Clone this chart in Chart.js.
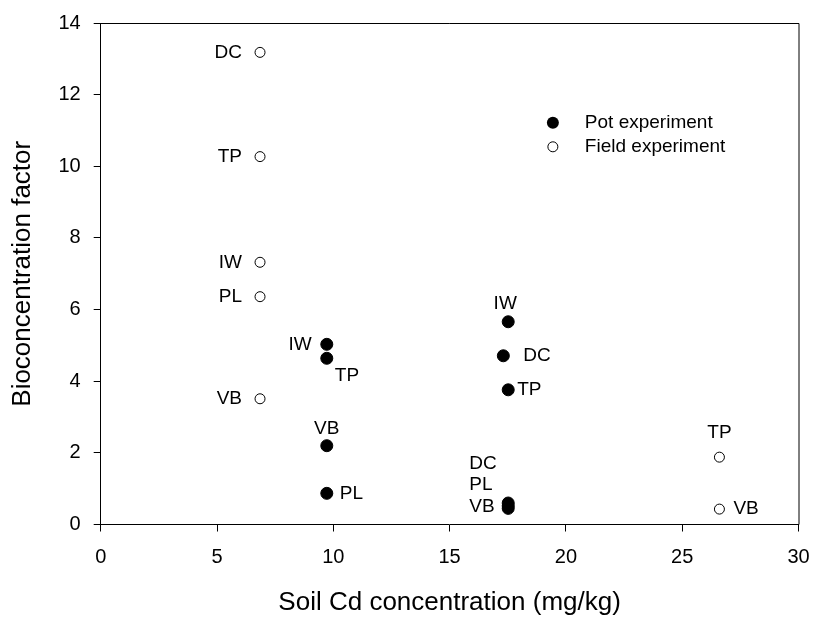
<!DOCTYPE html>
<html>
<head>
<meta charset="utf-8">
<script src="https://cdn.jsdelivr.net/npm/chart.js@4.4.1/dist/chart.umd.min.js"></script>
<style>
  html, body { margin: 0; padding: 0; background: #fff; }
  #wrap { width: 815px; height: 619px; }
</style>
</head>
<body>
<div id="wrap"><canvas id="c" width="815" height="619"></canvas></div>
<script>
// Soil Cd concentration (mg/kg) and bioconcentration factor per species
const potX = [9.72, 9.72, 9.72, 9.72, 17.52, 17.31, 17.52, 17.52, 17.52, 17.52];
const potY = [5.03, 4.64, 2.20, 0.87, 5.66, 4.71, 3.76, 0.60, 0.52, 0.45];
const potNames = ['IW', 'TP', 'VB', 'PL', 'IW', 'DC', 'TP', 'DC', 'PL', 'VB'];

const fieldX = [6.85, 6.85, 6.85, 6.85, 6.85, 26.6, 26.6];
const fieldY = [13.18, 10.27, 7.32, 6.36, 3.51, 1.88, 0.43];
const fieldNames = ['DC', 'TP', 'IW', 'PL', 'VB', 'TP', 'VB'];

const xTicks = [0, 5, 10, 15, 20, 25, 30];
const yTicks = [0, 2, 4, 6, 8, 10, 12, 14];

const seriesNames = ['Pot experiment', 'Field experiment'];

// Where each species label sits relative to its marker (pixels)
const potLabelPlace = [
  { dx: -15, dy: 0, align: 'right' },
  { dx: 8, dy: 17, align: 'left' },
  { dx: 0, dy: -17, align: 'center' },
  { dx: 13, dy: 0, align: 'left' },
  { dx: -3, dy: -18, align: 'center' },
  { dx: 20, dy: 0, align: 'left' },
  { dx: 9, dy: 0, align: 'left' },
  { dx: -39, dy: -39, align: 'left' },
  { dx: -39, dy: -21, align: 'left' },
  { dx: -39, dy: -2, align: 'left' }
];
const fieldLabelPlace = [
  { dx: -18, dy: 0, align: 'right' },
  { dx: -18, dy: 0, align: 'right' },
  { dx: -18, dy: 0, align: 'right' },
  { dx: -18, dy: 0, align: 'right' },
  { dx: -18, dy: 0, align: 'right' },
  { dx: 0, dy: -24, align: 'center' },
  { dx: 14, dy: 0, align: 'left' }
];

const FONT = "'Liberation Sans', Arial, Helvetica, sans-serif";

const toPoints = (xs, ys) => xs.map((x, i) => ({ x: x, y: ys[i] }));

// Species labels, frame and in-plot legend
const decorPlugin = {
  id: 'decor',
  afterDatasetsDraw(chart) {
    const ctx = chart.ctx;
    const xs = chart.scales.x, ys = chart.scales.y;
    const area = chart.chartArea;
    ctx.save();
    ctx.fillStyle = '#000';
    ctx.font = '19px ' + FONT;
    ctx.textBaseline = 'middle';
    const drawNames = (xv, yv, names, place) => {
      names.forEach((n, i) => {
        const p = place[i];
        ctx.textAlign = p.align;
        ctx.fillText(n, xs.getPixelForValue(xv[i]) + p.dx, ys.getPixelForValue(yv[i]) + p.dy);
      });
    };
    drawNames(potX, potY, potNames, potLabelPlace);
    drawNames(fieldX, fieldY, fieldNames, fieldLabelPlace);

    // top and right frame lines
    ctx.strokeStyle = '#000';
    ctx.lineWidth = 1;
    ctx.beginPath();
    ctx.moveTo(area.left, area.top + 0.5);
    ctx.lineTo(area.right + 0.5, area.top + 0.5);
    ctx.lineTo(area.right + 0.5, area.bottom);
    ctx.stroke();

    // legend
    const lx = area.left + 0.648 * (area.right - area.left);
    const ly0 = area.top + 0.199 * (area.bottom - area.top);
    const gap = 24;
    ctx.textAlign = 'left';
    ctx.beginPath();
    ctx.arc(lx, ly0, 6, 0, Math.PI * 2);
    ctx.fillStyle = '#000';
    ctx.fill();
    ctx.beginPath();
    ctx.arc(lx, ly0 + gap, 5, 0, Math.PI * 2);
    ctx.fillStyle = '#fff';
    ctx.fill();
    ctx.strokeStyle = '#000';
    ctx.stroke();
    ctx.fillStyle = '#000';
    ctx.fillText(seriesNames[0], lx + 32, ly0);
    ctx.fillText(seriesNames[1], lx + 32, ly0 + gap);
    ctx.restore();
  }
};

new Chart(document.getElementById('c'), {
  type: 'scatter',
  data: {
    datasets: [
      {
        label: seriesNames[0],
        data: toPoints(potX, potY),
        pointStyle: 'circle',
        pointRadius: 6,
        pointBackgroundColor: '#000',
        pointBorderColor: '#000',
        pointBorderWidth: 1
      },
      {
        label: seriesNames[1],
        data: toPoints(fieldX, fieldY),
        pointStyle: 'circle',
        pointRadius: 5,
        pointBackgroundColor: '#fff',
        pointBorderColor: '#000',
        pointBorderWidth: 1
      }
    ]
  },
  options: {
    responsive: false,
    animation: false,
    devicePixelRatio: 1,
    layout: { padding: { top: 23, right: 16.5, left: 0, bottom: 0 } },
    plugins: { legend: { display: false }, tooltip: { enabled: false } },
    scales: {
      x: {
        type: 'linear',
        min: xTicks[0],
        max: xTicks[xTicks.length - 1],
        afterBuildTicks(s) { s.ticks = xTicks.map(v => ({ value: v })); },
        afterFit(s) { s.height = 94.5; s.paddingLeft = 0; s.paddingRight = 0; },
        ticks: { color: '#000', font: { size: 20, family: FONT }, padding: 14, maxRotation: 0 },
        grid: { drawOnChartArea: false, drawTicks: true, tickLength: 7, color: '#000', lineWidth: 1 },
        border: { display: true, color: '#000', width: 1 },
        title: {
          display: true,
          text: 'Soil Cd concentration (mg/kg)',
          color: '#000',
          font: { size: 26, family: FONT },
          padding: { top: 0, bottom: 1 }
        }
      },
      y: {
        type: 'linear',
        min: yTicks[0],
        max: yTicks[yTicks.length - 1],
        afterBuildTicks(s) { s.ticks = yTicks.map(v => ({ value: v })); },
        afterFit(s) { s.width = 100.7; s.paddingTop = 0; s.paddingBottom = 0; },
        ticks: { color: '#000', font: { size: 20, family: FONT }, padding: 13 },
        grid: { drawOnChartArea: false, drawTicks: true, tickLength: 7, color: '#000', lineWidth: 1 },
        border: { display: true, color: '#000', width: 1 },
        title: {
          display: true,
          text: 'Bioconcentration factor',
          color: '#000',
          font: { size: 26, family: FONT },
          padding: { top: 7, bottom: 0 }
        }
      }
    }
  },
  plugins: [decorPlugin]
});
</script>
</body>
</html>
